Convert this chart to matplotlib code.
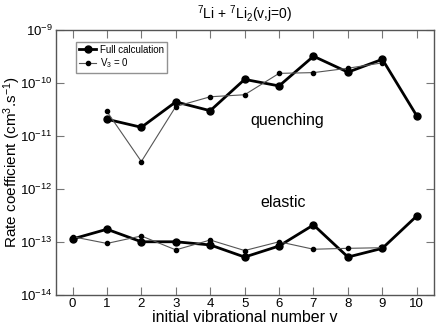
import numpy as np
import matplotlib
matplotlib.use("Agg")
import matplotlib.pyplot as plt
from matplotlib.ticker import LogLocator, FuncFormatter, NullLocator

plt.rcParams['font.family'] = ['Liberation Sans', 'DejaVu Sans']
plt.rcParams['mathtext.fontset'] = 'custom'
plt.rcParams['mathtext.rm'] = 'Liberation Sans'
plt.rcParams['mathtext.it'] = 'Liberation Sans:italic'
plt.rcParams['axes.unicode_minus'] = False

# quenching rates, v = 1..10 (full) and 1..9 (V3 = 0)
v_quench_full = [1, 2, 3, 4, 5, 6, 7, 8, 9, 10]
quench_full = [2.07e-11, 1.46e-11, 4.4e-11, 3.0e-11, 1.17e-10, 8.8e-11, 3.2e-10, 1.6e-10, 2.8e-10, 2.4e-11]
v_quench_v3 = [1, 2, 3, 4, 5, 6, 7, 8, 9]
quench_v3 = [2.9e-11, 3.3e-12, 3.6e-11, 5.5e-11, 6.0e-11, 1.52e-10, 1.57e-10, 1.9e-10, 2.4e-10]

# elastic rates
v_elastic_full = [0, 1, 2, 3, 4, 5, 6, 7, 8, 9, 10]
elastic_full = [1.14e-13, 1.74e-13, 1.01e-13, 1.01e-13, 8.8e-14, 5.2e-14, 8.4e-14, 2.1e-13, 5.2e-14, 7.6e-14, 3.1e-13]
v_elastic_v3 = [0, 1, 2, 3, 4, 5, 6, 7, 8, 9]
elastic_v3 = [1.26e-13, 9.4e-14, 1.30e-13, 7.1e-14, 1.09e-13, 6.9e-14, 1.01e-13, 7.3e-14, 7.6e-14, 7.8e-14]

fig = plt.figure(figsize=(4.36, 3.25), dpi=100)
ax = fig.add_axes([0.1284, 0.0923, 0.867, 0.8154])

full_style = dict(color='black', lw=2.0, marker='o', ms=5)
v3_style = dict(color='#555555', lw=0.8, marker='o', ms=3, mfc='black', mec='black')

ax.plot(v_quench_full, quench_full, label='Full calculation', **full_style)
ax.plot(v_quench_v3, quench_v3, label='V$_3$ = 0', **v3_style)
ax.plot(v_elastic_full, elastic_full, **full_style)
ax.plot(v_elastic_v3, elastic_v3, **v3_style)


def exp_label(y, pos):
    return '10$^{%d}$' % int(round(np.log10(y)))


ax.set_yscale('log')
ax.set_ylim(1e-14, 1e-9)
ax.set_xlim(-0.48, 10.5)
ax.set_xticks(range(11))
ax.yaxis.set_major_locator(LogLocator(base=10, numticks=10))
ax.yaxis.set_major_formatter(FuncFormatter(exp_label))
ax.yaxis.set_minor_locator(NullLocator())

ax.tick_params(direction='in', top=True, right=True, length=6, width=0.8,
               color='#777777', labelsize=9.5, pad=2.5)
for s in ax.spines.values():
    s.set_color('#555555')
    s.set_linewidth(1.0)

ax.set_xlabel('initial vibrational number v', fontsize=11.5, labelpad=0)
ax.set_ylabel('Rate coefficient (cm$^3$.s$^{-1}$)', fontsize=11)
ax.yaxis.set_label_coords(-0.088, 0.5)
ax.set_title('$^7$Li + $^7$Li$_2$(v,j=0)', fontsize=10, pad=8)

ax.text(6.25, 2.0e-11, 'quenching', fontsize=11.5, ha='center', va='center')
ax.text(6.13, 5.5e-13, 'elastic', fontsize=11.5, ha='center', va='center')

leg = ax.legend(loc='upper left', bbox_to_anchor=(0.053, 0.955), fontsize=7,
                frameon=True, fancybox=False, edgecolor='#777777',
                handlelength=1.8, borderpad=0.3, labelspacing=0.15,
                handletextpad=0.4, borderaxespad=0.0)
leg.get_frame().set_linewidth(1.0)

fig.savefig('out.png', dpi=100)
